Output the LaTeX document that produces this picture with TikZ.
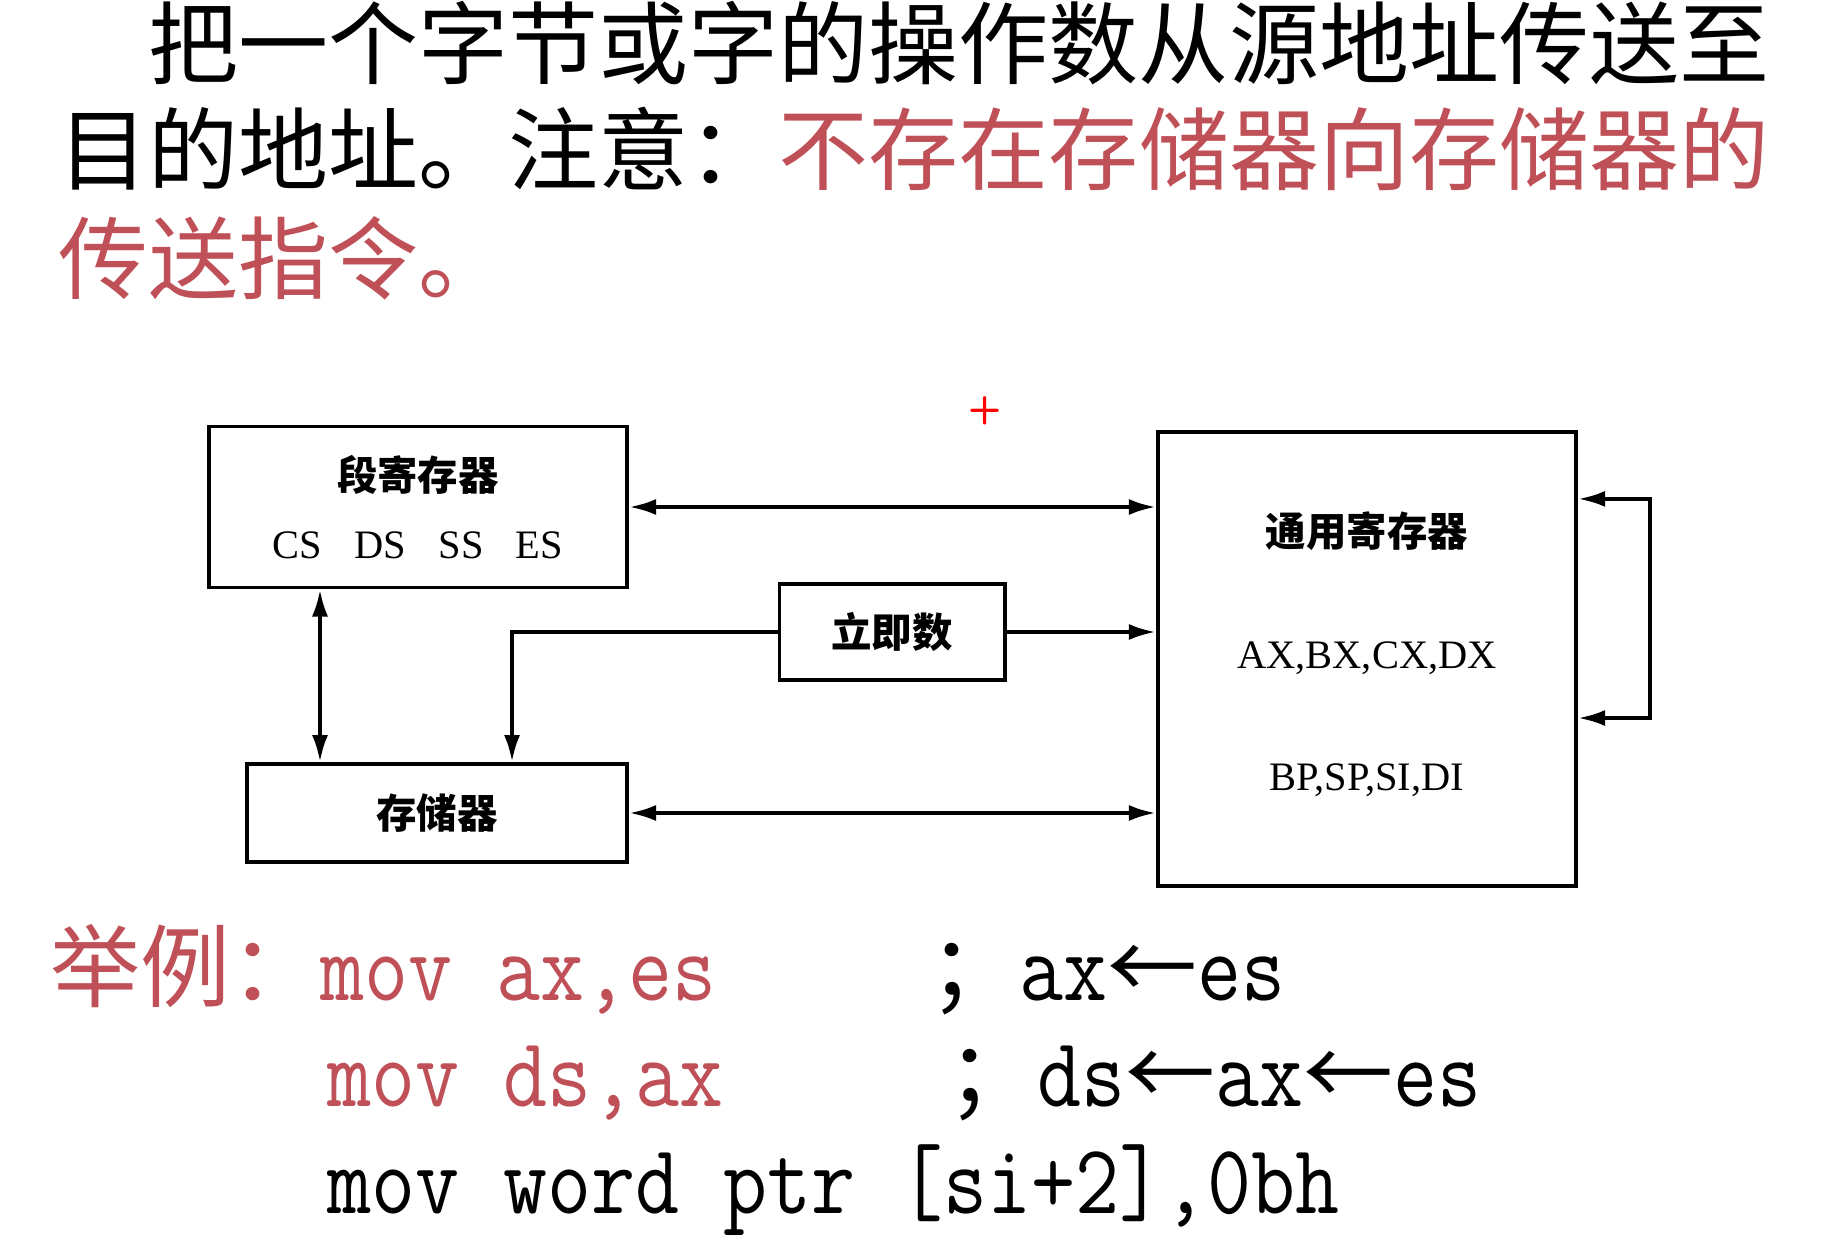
\documentclass[tikz,border=0pt]{standalone}
\usepackage{fontspec}
\usepackage{graphicx}
\usetikzlibrary{arrows.meta}

\newfontfamily\cjk{Noto Sans CJK SC}
\newfontfamily\labfont{Liberation Serif}
\definecolor{notered}{RGB}{192,80,88}

\newcommand\bodytext{\cjk\fontsize{25.6}{30}\selectfont}
\newcommand\code[1]{{\fontsize{24.3}{28}\ttfamily\scalebox{1}[1.16]{#1}}}
\newcommand\boxcn{\cjk\bfseries}
\newcommand\boxlat{\labfont}

\tikzset{
  unit/.style={draw,line width=1.1pt,inner sep=0pt,align=center},
  link/.style={line width=1.1pt,-{Latex[length=2.7mm,width=1.6mm]}},
  dlink/.style={line width=1.1pt,
    {Latex[length=2.7mm,width=1.6mm]}-{Latex[length=2.7mm,width=1.6mm]}},
  txt/.style={anchor=base west,inner sep=0pt}
}

\begin{document}
\begin{tikzpicture}[x=0.01cm,y=-0.01cm]
  \useasboundingbox (0,0) rectangle (1844,1248);

  % text above the figure
  \node[txt] (line1) at (148,77) {\bodytext 把一个字节或字的操作数从源地址传送至};
  \node[txt] (line2) at (58,183)
    {\bodytext 目的地址。注意：\textcolor{notered}{不存在存储器向存储器的}};
  \node[txt,text=notered] (line3) at (58,292) {\bodytext 传送指令。};
  \node[text=red,font=\sffamily\bfseries\fontsize{11}{11}\selectfont] (cursor)
    at (985,411) {+};

  % units
  \node[unit,minimum width=4.18cm,minimum height=1.61cm,
    font=\fontsize{11.5}{19.3}\selectfont] (seg) at (418,507)
    {{\boxcn 段寄存器}\\{\boxlat CS\hspace{0.8em}DS\hspace{0.8em}SS\hspace{0.8em}ES}};
  \node[unit,minimum width=4.18cm,minimum height=4.54cm,
    font=\fontsize{11.5}{34.7}\selectfont] (gen) at (1367,659)
    {{\boxcn 通用寄存器}\\{\boxlat AX,BX,CX,DX}\\{\boxlat BP,SP,SI,DI}\rule[-0.16cm]{0pt}{0pt}};
  \node[unit,minimum width=2.25cm,minimum height=0.96cm,
    font=\fontsize{11.5}{13}\selectfont] (imm) at (892,632) {\boxcn 立即数};
  \node[unit,minimum width=3.80cm,minimum height=0.98cm,
    font=\fontsize{11.5}{13}\selectfont] (mem) at (437,813) {\boxcn 存储器};

  % transfers
  \coordinate (vx) at (320,0);
  \draw[dlink] (seg.east) -- (seg.east -| gen.west);
  \draw[dlink] (mem.east) -- (mem.east -| gen.west);
  \draw[link] (imm.east) -- (imm.east -| gen.west);
  \draw[link] (imm.west) -| ([xshift=0.75cm]mem.north);
  \draw[dlink] (seg.south -| vx) -- (mem.north -| vx);
  \draw[dlink] ([yshift=1.6cm]gen.east) -- ++(72,0)
    |- ([yshift=-0.59cm]gen.east);

  % examples
  \node[txt,text=notered] (ex1) at (50,1000) {\bodytext 举例：\code{mov ax,es}};
  \node[txt] (note1) at (929,1000)
    {\bodytext\makebox[0.9cm][l]{；}\code{ax}\makebox[0.9cm]{←}\code{es}};
  \node[txt,text=notered] (ex2) at (327,1106) {\code{mov ds,ax}};
  \node[txt] (note2) at (947,1106)
    {\bodytext\makebox[0.9cm][l]{；}\code{ds}\makebox[0.9cm]{←}\code{ax}\makebox[0.9cm]{←}\code{es}};
  \node[txt] (ex3) at (327,1213) {\code{mov word ptr [si+2],0bh}};
\end{tikzpicture}
\end{document}
